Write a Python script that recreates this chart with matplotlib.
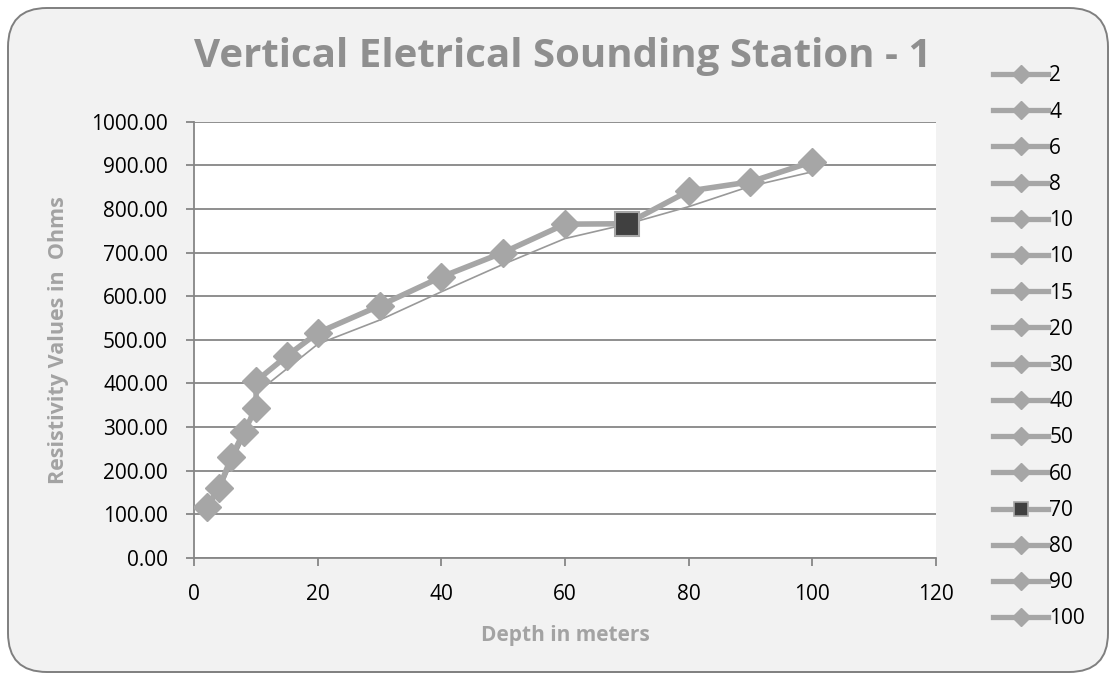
import numpy as np
import matplotlib
matplotlib.use("Agg")
import matplotlib.pyplot as plt
from matplotlib.patches import FancyBboxPatch
from matplotlib.lines import Line2D

plt.rcParams['font.family'] = ['Open Sans', 'DejaVu Sans']

# ---data---
depth = [2, 4, 6, 8, 10, 10, 15, 20, 30, 40, 50, 60, 70, 80, 90, 100]
resistivity = [116, 160, 230, 288, 343, 405, 463, 516, 578, 644, 700, 765, 766, 841, 862, 908]
legend_labels = ["2", "4", "6", "8", "10", "10", "15", "20", "30", "40", "50", "60", "70", "80", "90", "100"]

# thin line (second series, no markers)
depth_fit = [2, 4, 6, 8, 10, 20, 30, 40, 50, 60, 70, 80, 90, 100]
resistivity_fit = [110, 150, 215, 275, 377, 490, 545, 610, 673, 732, 765, 805, 852, 885]

highlight = 12  # the one point drawn as a dark square

grey = "#a6a6a6"
title_grey = "#8f8f8f"
lab_grey = "#a3a3a3"

fig = plt.figure(figsize=(11.13, 6.76), dpi=100)
fig.patch.set_facecolor("white")

# chart area with rounded border
bg = FancyBboxPatch((8 / 1113, 4 / 676), 1100 / 1113, 664 / 676,
                    boxstyle="round,pad=0,rounding_size=0.035",
                    transform=fig.transFigure, facecolor="#f2f2f2",
                    edgecolor="#7f7f7f", linewidth=1.4, mutation_aspect=1113 / 676,
                    zorder=-10)
fig.patches.append(bg)

ax = fig.add_axes([194.3 / 1113, 1 - 557.7 / 676, (935.7 - 194.3) / 1113, (557.7 - 121.7) / 676])
ax.set_facecolor("white")

ax.plot(depth_fit, resistivity_fit, color="#999999", lw=1.2, zorder=3)
ax.plot(depth, resistivity, color=grey, lw=4, zorder=4,
        marker="D", markersize=14, markerfacecolor=grey, markeredgecolor=grey,
        markevery=[i for i in range(len(depth)) if i != highlight])
ax.plot(depth[highlight], resistivity[highlight], marker="s", markersize=17,
        markerfacecolor="#404040", markeredgecolor=grey, markeredgewidth=1.5, zorder=5)

ax.set_xlim(0, 120)
ax.set_ylim(0, 1000)
ax.set_xticks(np.arange(0, 121, 20))
ax.set_yticks(np.arange(0, 1001, 100))
ax.set_yticklabels([f"{v:.2f}" for v in np.arange(0, 1001, 100)])
ax.yaxis.grid(True, color="#868686", lw=1.3)
ax.set_axisbelow(True)
for s in ["top", "right"]:
    ax.spines[s].set_visible(False)
for s in ["left", "bottom"]:
    ax.spines[s].set_color("#868686")
    ax.spines[s].set_linewidth(1.3)
ax.tick_params(axis="both", direction="out", length=6, width=1.3, color="#868686",
               labelsize=15, labelcolor="black")
ax.tick_params(axis="x", pad=13)
ax.tick_params(axis="y", pad=13)

ax.set_xlabel("Depth in meters", fontsize=15, fontweight="bold", color=lab_grey)
ax.xaxis.set_label_coords(0.5, -0.154)
ax.set_ylabel("Resistivity Values in  Ohms", fontsize=15.5, fontweight="bold", color=lab_grey)
ax.yaxis.set_label_coords(-0.169, 0.5)

fig.text(563 / 1113, 1 - 56 / 676, "Vertical Eletrical Sounding Station - 1",
         ha="center", va="center", fontsize=29, fontweight="bold", color=title_grey)

handles = []
for i, lab in enumerate(legend_labels):
    if i == highlight:
        h = Line2D([], [], color=grey, lw=3.8, marker="s", markersize=10,
                   markerfacecolor="#404040", markeredgecolor=grey, markeredgewidth=1.2)
    else:
        h = Line2D([], [], color=grey, lw=3.8, marker="D", markersize=9,
                   markerfacecolor=grey, markeredgecolor=grey)
    handles.append(h)
fig.legend(handles, legend_labels, loc="upper left", bbox_to_anchor=(985 / 1113, 1 - 57 / 676),
           frameon=False, fontsize=15, handlelength=2.64, handletextpad=0.05,
           labelspacing=0.73, borderaxespad=0)

fig.savefig("out.png", dpi=100, facecolor=fig.get_facecolor())
